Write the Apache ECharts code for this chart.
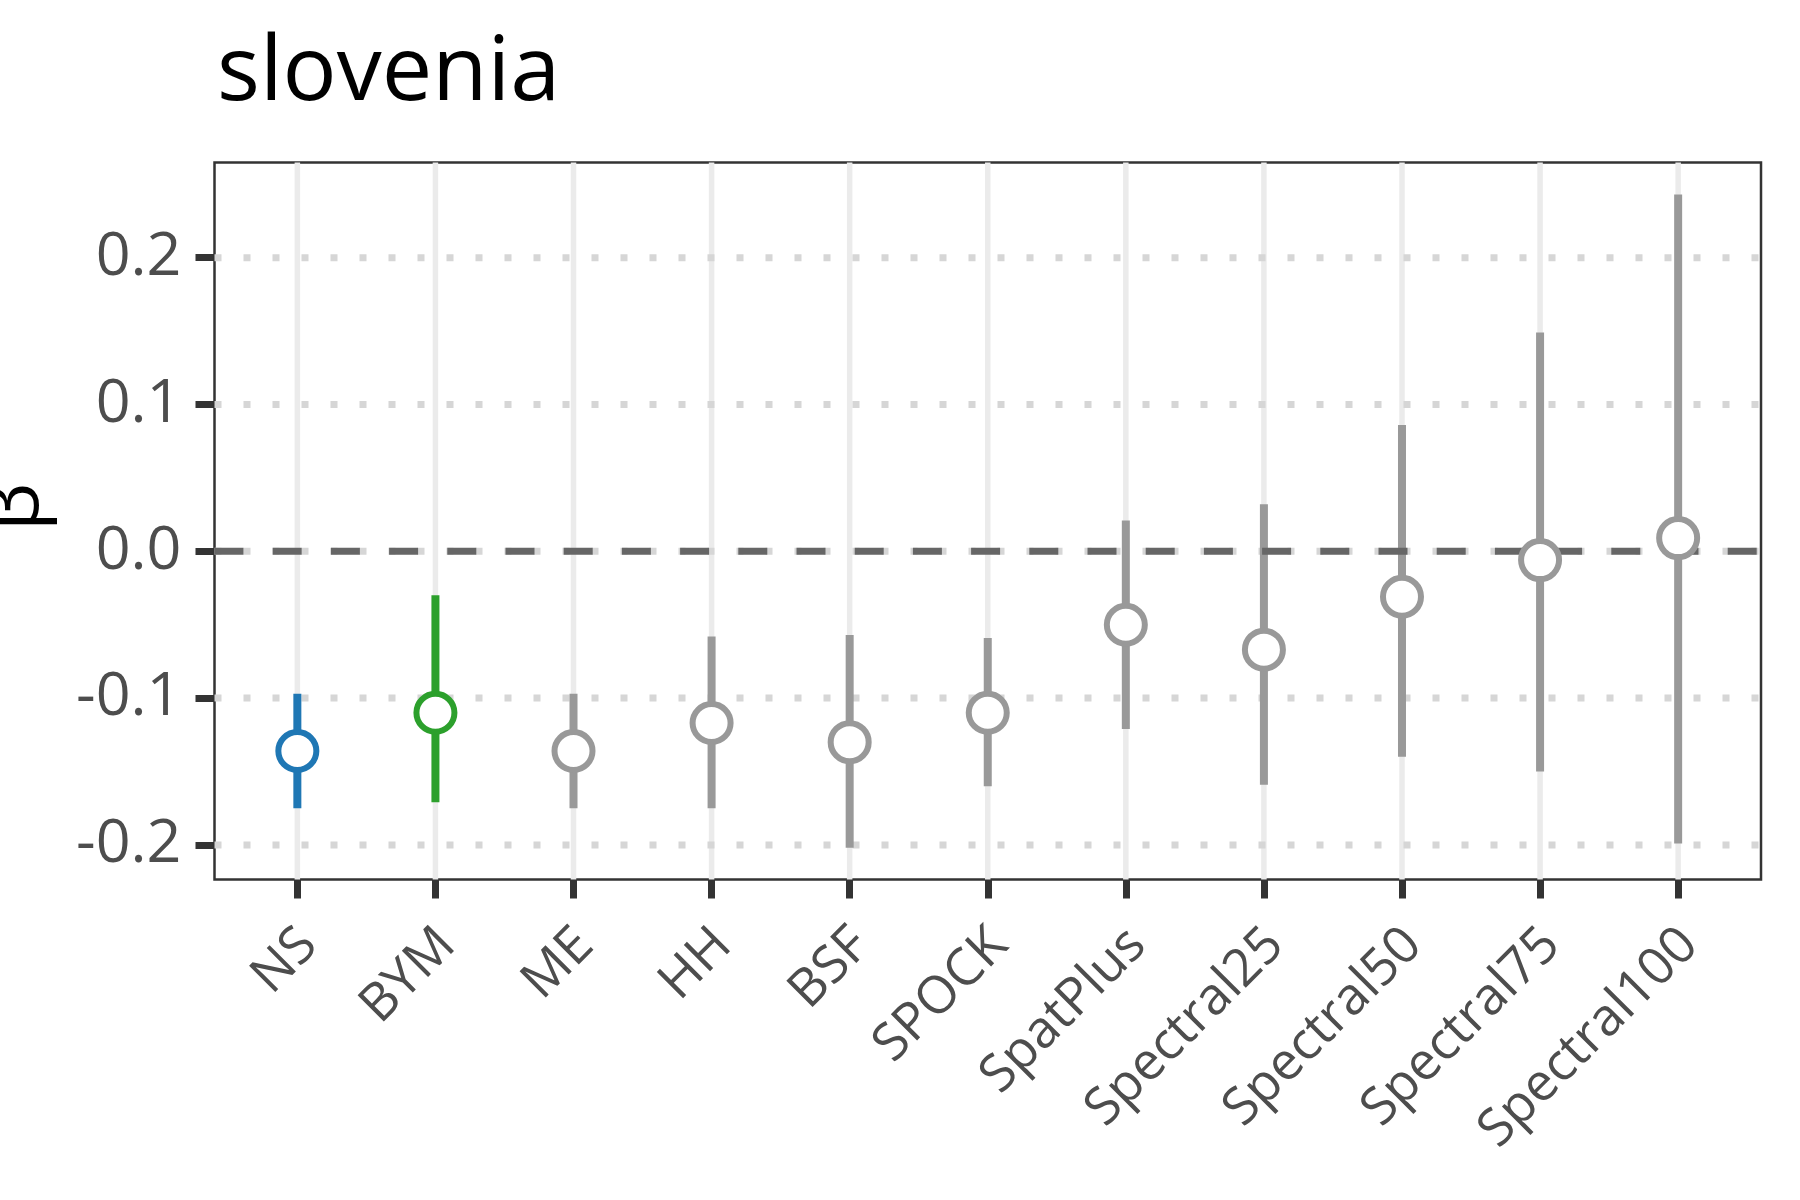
<!DOCTYPE html>
<html>
<head>
<meta charset="utf-8">
<script src="https://cdn.jsdelivr.net/npm/echarts@6/dist/echarts.min.js"></script>
<style>
html,body{margin:0;padding:0;background:#fff;}
#chart{width:1800px;height:1200px;}
</style>
</head>
<body>
<div id="chart"></div>
<script>
// ---- data ----
const titleText = 'slovenia';
const categories = ['NS','BYM','ME','HH','BSF','SPOCK','SpatPlus','Spectral25','Spectral50','Spectral75','Spectral100'];
const estimate = [-0.136, -0.110, -0.136, -0.117, -0.130, -0.110, -0.050, -0.067, -0.031, -0.006, 0.009];
const lower    = [-0.175, -0.171, -0.175, -0.175, -0.202, -0.160, -0.121, -0.159, -0.140, -0.150, -0.199];
const upper    = [-0.097, -0.030, -0.097, -0.058, -0.057, -0.059, 0.021, 0.032, 0.086, 0.149, 0.243];
const yTicks = [-0.2, -0.1, 0.0, 0.1, 0.2];
const refLine = [0];

// ---- styles ----
const highlight = {NS: '#1f77b4', BYM: '#2ca02c'};
const defaultColor = '#999999';
const colorOf = name => highlight[name] || defaultColor;
const FONT = '"Open Sans", "Noto Sans", sans-serif';

const catIdx = categories.map((c, i) => i);

const chart = echarts.init(document.getElementById('chart'), null, {renderer: 'canvas'});

const option = {
  animation: false,
  backgroundColor: '#ffffff',
  title: {
    text: titleText,
    left: 212,
    top: 24,
    textStyle: {fontFamily: FONT, fontSize: 90, fontWeight: 'normal', color: '#000000'}
  },
  grid: {
    left: 214.5, top: 162.4, width: 1546.5, height: 717,
    show: true, borderColor: '#333333', borderWidth: 2.5, backgroundColor: 'transparent',
    containLabel: false, outerBoundsMode: 'none'
  },
  xAxis: {
    type: 'value', min: -0.6, max: 10.6,
    axisLine: {show: false, onZero: false},
    splitLine: {show: false},
    axisTick: {show: true, customValues: catIdx, length: 19, lineStyle: {color: '#333333', width: 7}},
    axisLabel: {
      show: true, customValues: catIdx, rotate: 45, margin: 46,
      align: 'right', verticalAlign: 'top', lineHeight: 33,
      formatter: v => categories[Math.round(v)],
      fontFamily: FONT, fontSize: 52, color: '#4d4d4d'
    }
  },
  yAxis: {
    type: 'value', min: -0.2235, max: 0.2649,
    name: 'β', nameLocation: 'middle', nameGap: 160, nameRotate: 90, nameMoveOverlap: false,
    nameTextStyle: {fontFamily: FONT, fontSize: 76, color: '#000000', padding: [0, 0, 0, 28]},
    axisLine: {show: false, onZero: false},
    splitLine: {show: false},
    axisTick: {show: true, customValues: yTicks, length: 19, lineStyle: {color: '#333333', width: 7}},
    axisLabel: {
      show: true, customValues: yTicks, margin: 33,
      formatter: v => v.toFixed(1),
      fontFamily: FONT, fontSize: 61, color: '#4d4d4d'
    }
  },
  series: [
    { // vertical major grid lines at each category
      type: 'custom', z: 1, silent: true,
      data: catIdx.map(i => [i, 0]),
      encode: {x: 0, y: 1},
      renderItem: (params, api) => {
        const cs = params.coordSys;
        const x = api.coord([api.value(0), 0])[0];
        return {type: 'line', shape: {x1: x, y1: cs.y, x2: x, y2: cs.y + cs.height},
          style: {stroke: '#ebebeb', lineWidth: 5.5}};
      }
    },
    { // dotted horizontal grid lines at y ticks
      type: 'custom', z: 1, silent: true,
      data: yTicks.map(v => [0, v]),
      encode: {x: 0, y: 1},
      renderItem: (params, api) => {
        const cs = params.coordSys;
        const y = api.coord([0, api.value(1)])[1];
        return {type: 'line', shape: {x1: cs.x, y1: y, x2: cs.x + cs.width, y2: y},
          style: {stroke: '#d6d6d6', lineWidth: 7, lineDash: [7, 22], lineCap: 'butt'}};
      }
    },
    { // error bars
      type: 'custom', z: 2, silent: true,
      data: catIdx.map(i => [i, lower[i], upper[i]]),
      encode: {x: 0, y: [1, 2]},
      renderItem: (params, api) => {
        const i = api.value(0);
        const p1 = api.coord([i, api.value(1)]);
        const p2 = api.coord([i, api.value(2)]);
        return {type: 'line', shape: {x1: p1[0], y1: p1[1], x2: p2[0], y2: p2[1]},
          style: {stroke: colorOf(categories[i]), lineWidth: 8, lineCap: 'butt'}};
      }
    },
    { // dashed reference line at zero
      type: 'custom', z: 3, silent: true,
      data: refLine.map(v => [0, v]),
      encode: {x: 0, y: 1},
      renderItem: (params, api) => {
        const cs = params.coordSys;
        const y = api.coord([0, api.value(1)])[1];
        return {type: 'line', shape: {x1: cs.x, y1: y, x2: cs.x + cs.width, y2: y},
          style: {stroke: '#666666', lineWidth: 7, lineDash: [29, 29.2], lineCap: 'butt'}};
      }
    },
    { // point estimates
      type: 'scatter', z: 4, silent: true,
      symbol: 'circle', symbolSize: 38,
      data: catIdx.map(i => ({
        value: [i, estimate[i]],
        itemStyle: {color: '#ffffff', borderColor: colorOf(categories[i]), borderWidth: 6, opacity: 1}
      }))
    }
  ]
};

chart.setOption(option);
</script>
</body>
</html>
